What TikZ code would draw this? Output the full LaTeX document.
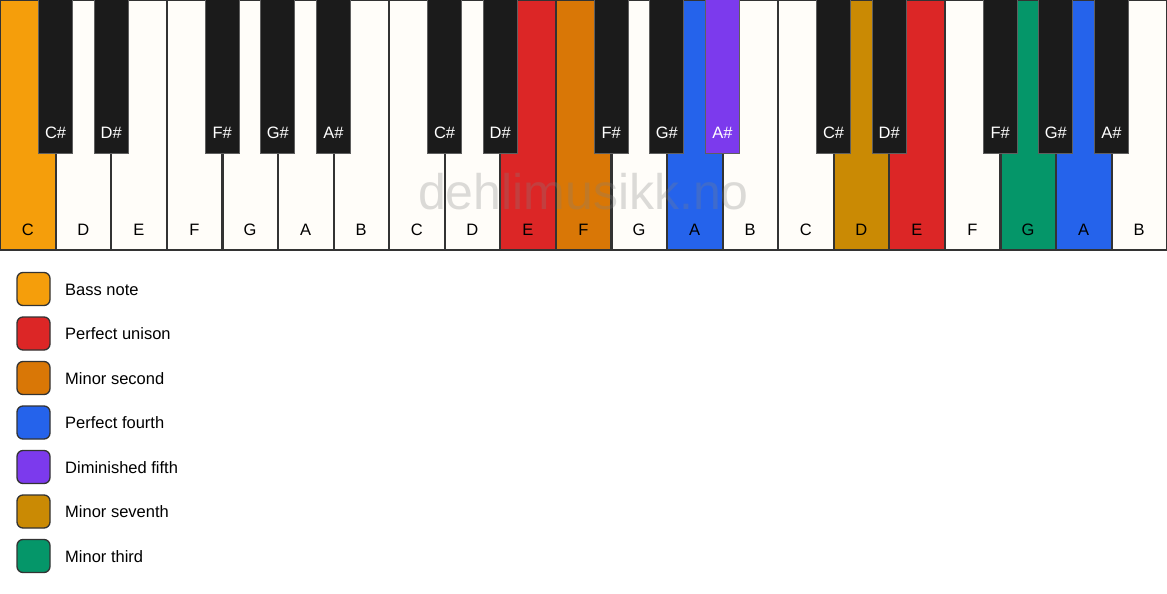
\documentclass[tikz,border=0pt]{standalone}
\usepackage{fontspec}
\setmainfont{Liberation Sans}
\definecolor{bass}{HTML}{F59E0B}
\definecolor{unison}{HTML}{DC2626}
\definecolor{minsec}{HTML}{D97706}
\definecolor{pfourth}{HTML}{2563EB}
\definecolor{dimfifth}{HTML}{7C3AED}
\definecolor{minsev}{HTML}{CA8A04}
\definecolor{minthird}{HTML}{059669}
\definecolor{ivory}{HTML}{FFFDF9}
\definecolor{ebony}{HTML}{1B1B1B}
\definecolor{edge}{HTML}{333333}
\begin{document}
\begin{tikzpicture}[x=1pt,y=-1pt,
  whitekey/.style={draw=edge,line width=1.3pt,fill=ivory},
  blackkey/.style={draw=ebony!70!white,line width=1pt,fill=ebony},
  wlabel/.style={font=\fontsize{16.5}{19}\selectfont,text=black},
  blabel/.style={font=\fontsize{16.5}{19}\selectfont,text=white},
  legbox/.style={draw=edge,line width=1.3pt,rounded corners=6pt,minimum width=33pt,minimum height=33pt,inner sep=0pt},
  legtext/.style={font=\fontsize{16.5}{19}\selectfont,anchor=west,inner sep=0pt}]
\useasboundingbox (0,0) rectangle (1167,594);
\fill[white] (0,0) rectangle (1167,594);
\def\w{55.571}
% white keys
\foreach \i/\n/\c in {0/C/bass,1/D/ivory,2/E/ivory,3/F/ivory,4/G/ivory,5/A/ivory,6/B/ivory,
  7/C/ivory,8/D/ivory,9/E/unison,10/F/minsec,11/G/ivory,12/A/pfourth,13/B/ivory,
  14/C/ivory,15/D/minsev,16/E/unison,17/F/ivory,18/G/minthird,19/A/pfourth,20/B/ivory}{
  \draw[whitekey,fill=\c] ({\i*\w+0.7},0) rectangle ({(\i+1)*\w-0.2},250);
  \node[wlabel] (w\i) at ({(\i+0.5)*\w},230) {\n};
}
% watermark
\node[font=\fontsize{50}{60}\selectfont,text=gray,opacity=0.28] (wm) at (583.5,192) {dehlimusikk.no};
% black keys
\foreach \i/\n/\c in {1/C\#/ebony,2/D\#/ebony,4/F\#/ebony,5/G\#/ebony,6/A\#/ebony,
  8/C\#/ebony,9/D\#/ebony,11/F\#/ebony,12/G\#/ebony,13/A\#/dimfifth,
  15/C\#/ebony,16/D\#/ebony,18/F\#/ebony,19/G\#/ebony,20/A\#/ebony}{
  \draw[blackkey,fill=\c] ({\i*\w-17},-1) rectangle ({\i*\w+17},153);
  \node[blabel] (b\i) at ({\i*\w},133) {\n};
}
% legend
\foreach \k/\c/\t in {0/bass/Bass note,1/unison/Perfect unison,2/minsec/Minor second,
  3/pfourth/Perfect fourth,4/dimfifth/Diminished fifth,5/minsev/Minor seventh,6/minthird/Minor third}{
  \node[legbox,fill=\c] (lb\k) at (33.5,{289+\k*44.5}) {};
  \node[legtext] (lt\k) at (65,{289.5+\k*44.5}) {\t};
}
\end{tikzpicture}
\end{document}
